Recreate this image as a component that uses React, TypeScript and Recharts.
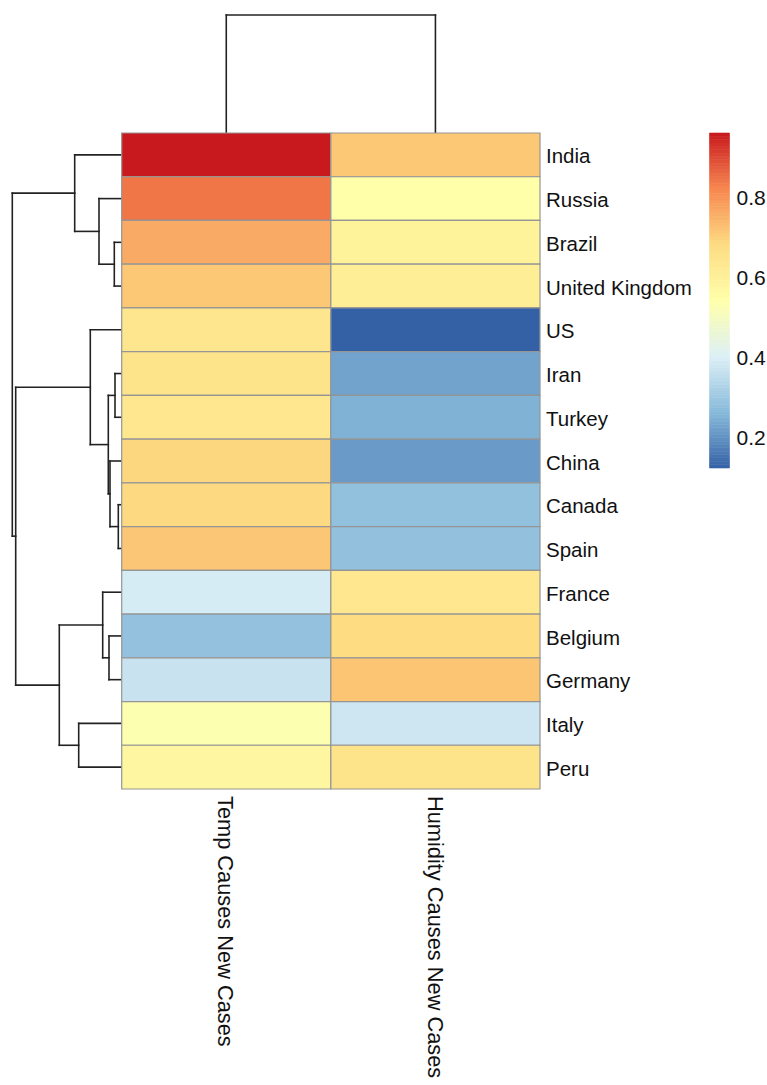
import { ComposedChart, XAxis, YAxis, ReferenceArea, ReferenceLine } from "recharts";

// rows in display order (top to bottom)
const rowLabels = [
  "India", "Russia", "Brazil", "United Kingdom", "US", "Iran", "Turkey", "China",
  "Canada", "Spain", "France", "Belgium", "Germany", "Italy", "Peru",
];
const colLabels = ["Temp Causes New Cases", "Humidity Causes New Cases"];

const tempValues = [
  0.96, 0.843, 0.764, 0.715, 0.64, 0.654, 0.637, 0.69, 0.685, 0.717, 0.392, 0.283, 0.37, 0.531, 0.578,
];
const humidityValues = [
  0.715, 0.545, 0.594, 0.607, 0.125, 0.228, 0.251, 0.214, 0.281, 0.28, 0.636, 0.68, 0.72, 0.378, 0.651,
];

// hierarchical clustering merges (like hclust), heights in dendrogram units
const rowMerges = [
  { id: "n1", left: "Canada", right: "Spain", height: 0.034 },
  { id: "n2", left: "Iran", right: "Turkey", height: 0.067 },
  { id: "n3", left: "Brazil", right: "United Kingdom", height: 0.074 },
  { id: "n4", left: "China", right: "n1", height: 0.117 },
  { id: "n5", left: "Belgium", right: "Germany", height: 0.127 },
  { id: "n6", left: "n2", right: "n4", height: 0.134 },
  { id: "n7", left: "France", right: "n5", height: 0.19 },
  { id: "n8", left: "Russia", right: "n3", height: 0.227 },
  { id: "n9", left: "US", right: "n6", height: 0.314 },
  { id: "n10", left: "Italy", right: "Peru", height: 0.43 },
  { id: "n11", left: "India", right: "n8", height: 0.47 },
  { id: "n12", left: "n7", right: "n10", height: 0.624 },
  { id: "n13", left: "n9", right: "n12", height: 1.06 },
  { id: "n14", left: "n11", right: "n13", height: 1.094 },
];
const colMerges = [
  { id: "c1", left: "Temp Causes New Cases", right: "Humidity Causes New Cases", height: 1 },
];

const legendTicks = [0.2, 0.4, 0.6, 0.8];

const palette = ["#3461A5", "#88BADA", "#DCF0F6", "#FFFFAA", "#FDDC82", "#F7874F", "#C8191E"];

const W = 767;
const H = 1085;
const FONT = "'Liberation Sans', Arial, Helvetica, sans-serif";
const TREE_COLOR = "#222";

// plot rectangle of the heatmap body
const HM = { left: 121.7, right: 540, top: 133, bottom: 789 };

const allValues = [...tempValues, ...humidityValues];
const vMin = Math.min(...allValues);
const vMax = Math.max(...allValues);

function hexToRgb(h: string) {
  const n = parseInt(h.slice(1), 16);
  return [(n >> 16) & 255, (n >> 8) & 255, n & 255];
}

function colorFor(v: number) {
  const t = Math.max(0, Math.min(1, (v - vMin) / (vMax - vMin)));
  const pos = t * (palette.length - 1);
  const i = Math.min(palette.length - 2, Math.floor(pos));
  const f = pos - i;
  const a = hexToRgb(palette[i]);
  const b = hexToRgb(palette[i + 1]);
  const c = a.map((x, k) => Math.round(x + (b[k] - x) * f));
  return `rgb(${c[0]},${c[1]},${c[2]})`;
}

type Merge = { id: string; left: string; right: string; height: number };

// returns segments as [[height, pos], [height, pos]]
function treeSegments(merges: Merge[], leaves: string[]) {
  const pos: Record<string, number> = {};
  const hgt: Record<string, number> = {};
  leaves.forEach((l, i) => {
    pos[l] = i + 0.5;
    hgt[l] = 0;
  });
  const segs: number[][][] = [];
  merges.forEach((m) => {
    const a = pos[m.left];
    const b = pos[m.right];
    segs.push([[hgt[m.left], a], [m.height, a]]);
    segs.push([[hgt[m.right], b], [m.height, b]]);
    segs.push([[m.height, a], [m.height, b]]);
    pos[m.id] = (a + b) / 2;
    hgt[m.id] = m.height;
  });
  return segs;
}

const rowSegs = treeSegments(rowMerges, rowLabels);
const colSegs = treeSegments(colMerges, colLabels);
const colMaxHeight = Math.max(...colMerges.map((m) => m.height));

const cells = rowLabels.flatMap((_, r) => [
  { row: r, col: 0, value: tempValues[r] },
  { row: r, col: 1, value: humidityValues[r] },
]);

const legendSteps = 100;
const legendStrips = Array.from({ length: legendSteps }, (_, i) => {
  const lo = vMin + ((vMax - vMin) * i) / legendSteps;
  const hi = vMin + ((vMax - vMin) * (i + 1)) / legendSteps;
  return { lo, hi, color: colorFor((lo + hi) / 2) };
});

const RowTick = (props: any) => {
  const { x, y, payload } = props;
  return (
    <text x={x} y={y} dy="0.42em" textAnchor="start" fontSize={20.5} fontFamily={FONT} fill="#111">
      {rowLabels[Math.floor(payload.value)]}
    </text>
  );
};

const ColTick = (props: any) => {
  const { x, y, payload } = props;
  return (
    <text
      transform={`translate(${x},${y}) rotate(90)`}
      dy="0.36em"
      textAnchor="start"
      fontSize={21.8}
      fontFamily={FONT}
      fill="#111"
    >
      {colLabels[Math.floor(payload.value)]}
    </text>
  );
};

const LegendTick = (props: any) => {
  const { x, y, payload } = props;
  return (
    <text x={x} y={y} dy="0.36em" textAnchor="start" fontSize={21} fontFamily={FONT} fill="#111">
      {payload.value.toFixed(1)}
    </text>
  );
};

const layer: React.CSSProperties = { position: "absolute", left: 0, top: 0 };

export default function App() {
  return (
    <div style={{ position: "absolute", left: 0, top: 0, width: W, height: H, background: "#fff", overflow: "hidden" }}>
      {/* column dendrogram */}
      <div style={layer}>
        <ComposedChart
          width={W}
          height={H}
          margin={{ top: 15, bottom: H - HM.top, left: HM.left, right: W - HM.right }}
        >
          <XAxis type="number" dataKey="x" domain={[0, 2]} allowDataOverflow hide />
          <YAxis type="number" domain={[0, colMaxHeight]} allowDataOverflow hide />
          {colSegs.map((s, i) => (
            <ReferenceLine
              key={`c${i}`}
              segment={[
                { x: s[0][1], y: s[0][0] },
                { x: s[1][1], y: s[1][0] },
              ]}
              stroke={TREE_COLOR}
              strokeWidth={1.6}
              strokeLinecap="square"
              ifOverflow="visible"
            />
          ))}
        </ComposedChart>
      </div>

      {/* row dendrogram */}
      <div style={layer}>
        <ComposedChart
          width={W}
          height={H}
          margin={{ top: HM.top, bottom: H - HM.bottom, left: 11.7, right: W - HM.left }}
        >
          <XAxis type="number" dataKey="x" domain={[0, 1.1]} reversed allowDataOverflow hide />
          <YAxis type="number" domain={[0, 15]} reversed allowDataOverflow hide />
          {rowSegs.map((s, i) => (
            <ReferenceLine
              key={`r${i}`}
              segment={[
                { x: s[0][0], y: s[0][1] },
                { x: s[1][0], y: s[1][1] },
              ]}
              stroke={TREE_COLOR}
              strokeWidth={1.6}
              strokeLinecap="square"
              ifOverflow="visible"
            />
          ))}
        </ComposedChart>
      </div>

      {/* heatmap body */}
      <div style={layer}>
        <ComposedChart
          width={W}
          height={H}
          margin={{ top: HM.top, bottom: H - HM.bottom - 280, left: HM.left, right: W - HM.right - 200 }}
        >
          <XAxis
            type="number"
            dataKey="x"
            domain={[0, 2]}
            ticks={[0.5, 1.5]}
            interval={0}
            allowDataOverflow
            axisLine={false}
            tickLine={false}
            tickSize={0}
            tickMargin={7}
            height={280}
            tick={<ColTick />}
          />
          <YAxis
            type="number"
            orientation="right"
            domain={[0, 15]}
            reversed
            ticks={rowLabels.map((_, i) => i + 0.5)}
            interval={0}
            allowDataOverflow
            axisLine={false}
            tickLine={false}
            tickSize={0}
            tickMargin={6}
            width={200}
            tick={<RowTick />}
          />
          {cells.map((c) => (
            <ReferenceArea
              key={`cell${c.row}-${c.col}`}
              x1={c.col}
              x2={c.col + 1}
              y1={c.row}
              y2={c.row + 1}
              fill={colorFor(c.value)}
              fillOpacity={1}
              stroke="#959595"
              strokeWidth={1.2}
              ifOverflow="visible"
            />
          ))}
        </ComposedChart>
      </div>

      {/* colour legend */}
      <div style={layer}>
        <ComposedChart
          width={W}
          height={H}
          margin={{ top: 133, bottom: H - 468, left: 709.5, right: W - 729.5 - 37.5 }}
        >
          <XAxis type="number" dataKey="x" domain={[0, 1]} allowDataOverflow hide />
          <YAxis
            type="number"
            orientation="right"
            domain={[vMin, vMax]}
            ticks={legendTicks}
            interval={0}
            allowDataOverflow
            axisLine={false}
            tickLine={false}
            tickSize={0}
            tickMargin={7}
            width={37.5}
            tick={<LegendTick />}
          />
          {legendStrips.map((s, i) => (
            <ReferenceArea
              key={`lg${i}`}
              x1={0}
              x2={1}
              y1={s.lo}
              y2={s.hi}
              fill={s.color}
              fillOpacity={1}
              stroke={s.color}
              strokeWidth={0.6}
              ifOverflow="visible"
            />
          ))}
        </ComposedChart>
      </div>
    </div>
  );
}
